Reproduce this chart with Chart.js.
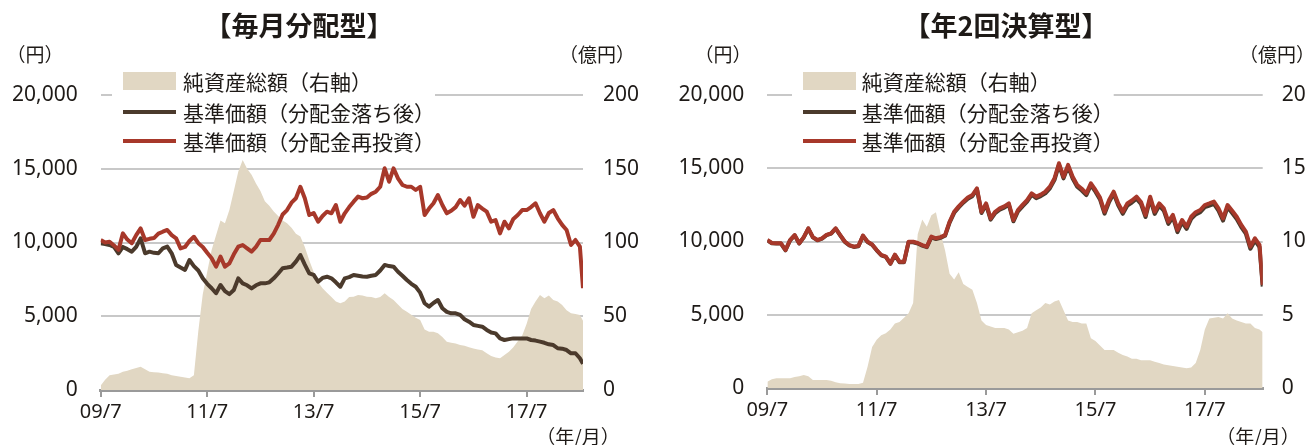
<!DOCTYPE html>
<html lang="ja">
<head>
<meta charset="utf-8">
<title>基準価額と純資産総額の推移</title>
<script src="https://cdn.jsdelivr.net/npm/chart.js@4.4.1/dist/chart.umd.min.js"></script>
<style>
  html, body { margin: 0; padding: 0; background: #fff; }
  body { width: 1308px; height: 445px; overflow: hidden; display: flex; }
  .panel { width: 654px; height: 445px; }
</style>
</head>
<body>
<div class="panel"><canvas id="monthly" width="654" height="445"></canvas></div>
<div class="panel"><canvas id="semiannual" width="654" height="445"></canvas></div>
<script>
// x values: months since 2009/7, one per month, last point is the final day shown
const months = [];
for (let m = 0; m <= 108; m++) months.push(m);
months.push(108.7);

const xTickMonths = [0, 24, 48, 72, 96];
const xTickLabels = ['09/7', '11/7', '13/7', '15/7', '17/7'];

const legendLabels = ['純資産総額（右軸）', '基準価額（分配金落ち後）', '基準価額（分配金再投資）'];

// 毎月分配型
const monthlyNetAssets = [ // 億円
  3, 7, 10, 10.5, 11, 12.4, 13, 14, 15, 15.8,
  14, 12.4, 12, 11.8, 11.3, 11, 10, 9.5, 9, 8.5,
  8, 10, 40, 65, 80, 95, 105, 115, 113, 122,
  135, 148, 156, 150, 146, 140, 135, 128, 125, 121,
  118, 115, 113, 110, 106, 104, 97, 88, 80, 73,
  69, 66, 63, 60, 58.8, 60, 63, 63.3, 64.4, 64,
  63.3, 63, 62.2, 63, 65.6, 63, 61, 58, 55, 53,
  51, 49, 47.5, 41, 39.5, 39.5, 38.5, 36, 32.7, 32,
  31.6, 30.5, 30, 29, 28.2, 27.5, 27, 24.9, 23, 22,
  21.5, 23.7, 26, 29, 33, 37, 45, 55, 60, 64.4,
  62.2, 64, 61, 60, 57.6, 54, 52, 51.5, 50.8, 47
];
const monthlyNavAfterDist = [ // 円
  9950, 9900, 9830, 9700, 9270, 9700, 9550, 9380, 9700, 10280,
  9270, 9380, 9300, 9270, 9600, 9720, 9270, 8475, 8300, 8140,
  8810, 8400, 8100, 7570, 7200, 6900, 6560, 7120, 6700, 6500,
  6780, 7570, 7230, 7100, 6890, 7100, 7230, 7230, 7300, 7570,
  7900, 8250, 8300, 8360, 8700, 9150, 8500, 7910, 7800, 7340,
  7600, 7680, 7570, 7300, 7000, 7570, 7650, 7800, 7750, 7700,
  7680, 7750, 7800, 8100, 8480, 8400, 8360, 8020, 7750, 7460,
  7200, 7000, 6600, 5880, 5650, 5900, 6100, 5540, 5300, 5200,
  5200, 5090, 4800, 4630, 4410, 4350, 4290, 4070, 3900, 3840,
  3500, 3390, 3450, 3500, 3500, 3500, 3500, 3390, 3350, 3280,
  3200, 3100, 3050, 2830, 2800, 2710, 2490, 2490, 2150, 1780
];
const monthlyNavReinvested = [ // 円
  10170, 10000, 10050, 9800, 9500, 10620, 10200, 9950, 10500, 10960,
  10170, 10250, 10300, 10600, 10730, 10850, 10500, 10280, 9600, 9700,
  10100, 10390, 9950, 9700, 9300, 8930, 8360, 9040, 8360, 8590,
  9200, 9720, 9830, 9600, 9380, 9700, 10170, 10170, 10170, 10600,
  11200, 11900, 12200, 12700, 13000, 13780, 13000, 11865, 12000, 11410,
  11800, 12090, 11980, 12540, 11410, 11980, 12400, 12770, 13110, 13000,
  13050, 13300, 13445, 13780, 15030, 14120, 15030, 14350, 13900, 13780,
  13780, 13560, 13780, 11865, 12300, 12660, 13220, 12540, 11980, 12150,
  12400, 12880, 12500, 13000, 11750, 12540, 12300, 12090, 11410, 11520,
  10620, 11410, 10960, 11600, 11865, 12200, 12200, 12400, 12660, 11980,
  11410, 12000, 12200, 11640, 11190, 10850, 9830, 10170, 9720, 6900
];

// 年2回決算型
const semiNetAssets = [ // 億円
  0.43, 0.6, 0.66, 0.66, 0.66, 0.66, 0.75, 0.8, 0.89, 0.8,
  0.55, 0.55, 0.55, 0.55, 0.5, 0.4, 0.32, 0.3, 0.28, 0.27,
  0.27, 0.35, 1.45, 2.8, 3.3, 3.6, 3.73, 4.0, 4.4, 4.5,
  4.8, 5.1, 5.8, 10.5, 11.5, 11.0, 11.8, 12.0, 10.6, 9.4,
  7.8, 7.4, 7.9, 7.1, 6.9, 6.7, 5.8, 4.6, 4.3, 4.2,
  4.1, 4.1, 4.1, 4.0, 3.7, 3.8, 3.9, 4.1, 5.1, 5.3,
  5.5, 5.8, 5.7, 5.9, 6.0, 5.3, 4.6, 4.5, 4.5, 4.4,
  4.4, 3.4, 3.2, 2.9, 2.6, 2.6, 2.6, 2.4, 2.25, 2.15,
  2.0, 2.0, 1.9, 1.9, 1.9, 1.8, 1.7, 1.6, 1.55, 1.5,
  1.45, 1.4, 1.35, 1.4, 1.7, 2.6, 4.0, 4.75, 4.8, 4.85,
  4.75, 5.1, 4.75, 4.6, 4.5, 4.4, 4.4, 4.1, 4.0, 3.8
];
const semiNavAfterDist = [ // 円
  10080, 9880, 9860, 9860, 9400, 10080, 10420, 9860, 10280, 10880,
  10280, 10080, 10190, 10430, 10540, 10880, 10420, 9980, 9740, 9630,
  9680, 10380, 9970, 9780, 9400, 9060, 8950, 8480, 9070, 8590,
  8590, 9950, 9950, 9860, 9720, 9610, 10280, 10170, 10250, 10390,
  11290, 11960, 12330, 12650, 12920, 13090, 13550, 11950, 12510, 11490,
  11940, 12170, 12310, 12510, 11380, 12050, 12400, 12730, 13190, 12960,
  13100, 13290, 13630, 14190, 15230, 14310, 15110, 14300, 13740, 13480,
  13170, 13850, 13400, 12870, 11900, 12700, 13270, 12470, 11890, 12460,
  12660, 12920, 12560, 11670, 12910, 11880, 12450, 12110, 11200, 11660,
  10640, 11320, 10860, 11540, 11850, 12000, 12340, 12450, 12570, 12110,
  11430, 12340, 11950, 11540, 10980, 10530, 9500, 10070, 9620, 6920
];
const semiNavReinvested = [ // 円
  10100, 9900, 9880, 9880, 9420, 10100, 10440, 9880, 10300, 10900,
  10300, 10100, 10210, 10450, 10560, 10900, 10440, 10000, 9760, 9650,
  9700, 10400, 9990, 9800, 9420, 9080, 8970, 8500, 9100, 8620,
  8620, 9990, 9990, 9900, 9760, 9650, 10330, 10220, 10300, 10440,
  11350, 12030, 12400, 12720, 13000, 13170, 13630, 12030, 12600, 11580,
  12030, 12260, 12400, 12600, 11470, 12150, 12500, 12830, 13290, 13060,
  13200, 13400, 13740, 14300, 15340, 14420, 15230, 14420, 13860, 13600,
  13290, 13970, 13520, 13000, 12030, 12830, 13400, 12600, 12030, 12600,
  12800, 13060, 12700, 11810, 13060, 12030, 12600, 12260, 11350, 11810,
  10790, 11470, 11010, 11690, 12000, 12150, 12490, 12600, 12720, 12260,
  11580, 12490, 12100, 11690, 11130, 10680, 9650, 10220, 9770, 7050
];

const TEXT = '#1e1a17';
const AREA = '#e1d7c3';
const BROWN = '#4b3a2c';
const RED = '#a7382a';
const GRID = '#c8c8c8';
const AXIS = '#9a9a9a';
const SANS = '"Noto Sans", "Noto Sans CJK JP", sans-serif';
const CJK = '"Noto Sans CJK JP", "Noto Sans", sans-serif';

Chart.defaults.font.family = SANS;
Chart.defaults.color = TEXT;

// legend, title and unit labels
const panelDecor = {
  id: 'panelDecor',
  beforeDatasetsDraw(chart, args, opts) {
    const { ctx, chartArea: area } = chart;
    const sets = chart.data.datasets;
    const swX = area.left + opts.swatchX;
    const textX = area.left + opts.textX;
    ctx.save();
    ctx.font = '21px ' + CJK;
    let maxW = 0;
    sets.forEach(ds => { maxW = Math.max(maxW, ctx.measureText(ds.label).width); });
    // white box hides the top grid line behind the legend
    ctx.fillStyle = '#fff';
    ctx.fillRect(swX - 11, 66, textX + maxW - swX + 11, 92);
    sets.forEach((ds, i) => {
      const y = opts.rows[i];
      if (ds.fill) {
        ctx.fillStyle = ds.backgroundColor;
        ctx.fillRect(swX, y - 9, 53, 18);
      } else {
        ctx.strokeStyle = ds.borderColor;
        ctx.lineWidth = 4;
        ctx.beginPath();
        ctx.moveTo(swX, y);
        ctx.lineTo(swX + 53, y);
        ctx.stroke();
      }
      ctx.fillStyle = TEXT;
      ctx.textAlign = 'left';
      ctx.textBaseline = 'middle';
      ctx.fillText(ds.label, textX, y + 1);
    });
    ctx.restore();
  },
  afterDraw(chart, args, opts) {
    const ctx = chart.ctx;
    ctx.save();
    ctx.fillStyle = TEXT;
    ctx.textAlign = 'center';
    ctx.textBaseline = 'middle';
    ctx.font = 'bold 27px ' + CJK;
    ctx.fillText(opts.title, opts.titleX, 26);
    ctx.font = '19px ' + CJK;
    ctx.fillText('（円）', opts.yenX, 55);
    ctx.fillText('（億円）', opts.okuX, 55);
    ctx.fillText('（年/月）', opts.dateX, 437);
    ctx.restore();
  }
};

function makePanel(canvasId, series, geom, decor) {
  const [netAssets, navAfterDist, navReinvested] = series;
  const pts = arr => months.map((m, i) => ({ x: m, y: arr[i] }));
  return new Chart(document.getElementById(canvasId), {
    type: 'line',
    data: {
      datasets: [
        {
          label: legendLabels[0],
          data: pts(netAssets),
          yAxisID: 'y1',
          fill: 'origin',
          backgroundColor: AREA,
          borderWidth: 0,
          pointRadius: 0,
          order: 3
        },
        {
          label: legendLabels[1],
          data: pts(navAfterDist),
          yAxisID: 'y',
          fill: false,
          borderColor: BROWN,
          borderWidth: 4,
          pointRadius: 0,
          order: 2
        },
        {
          label: legendLabels[2],
          data: pts(navReinvested),
          yAxisID: 'y',
          fill: false,
          borderColor: RED,
          borderWidth: 4,
          pointRadius: 0,
          order: 1
        }
      ]
    },
    options: {
      responsive: false,
      animation: false,
      devicePixelRatio: 1,
      layout: { padding: { top: geom.top, left: 0, right: 0, bottom: 0 } },
      elements: { line: { tension: 0, borderJoinStyle: 'round' } },
      plugins: {
        legend: { display: false },
        tooltip: { enabled: false },
        panelDecor: decor
      },
      scales: {
        x: {
          type: 'linear',
          min: 0,
          max: months[months.length - 1],
          afterBuildTicks: s => { s.ticks = xTickMonths.map(v => ({ value: v })); },
          afterFit: s => { s.height = 445 - geom.bottom; },
          grid: { display: true, drawOnChartArea: false, drawTicks: true, tickLength: 7, color: AXIS, lineWidth: 2 },
          border: { display: true, color: AXIS, width: 3 },
          ticks: {
            autoSkip: false,
            maxRotation: 0,
            padding: 3,
            font: { size: 20 },
            callback: v => xTickLabels[xTickMonths.indexOf(v)]
          }
        },
        y: {
          position: 'left',
          min: 0,
          max: 20000,
          afterFit: s => { s.width = geom.left; },
          grid: {
            drawTicks: false,
            lineWidth: 2,
            color: c => (c.tick && c.tick.value === 0 ? 'rgba(0,0,0,0)' : GRID)
          },
          border: { display: false },
          ticks: {
            stepSize: 5000,
            padding: 23,
            font: { size: 21 },
            callback: v => v.toLocaleString('en-US')
          }
        },
        y1: {
          position: 'right',
          min: 0,
          max: geom.rightMax,
          afterFit: s => { s.width = 654 - geom.right; },
          grid: { display: false, drawTicks: false },
          border: { display: false },
          ticks: {
            stepSize: geom.rightMax / 4,
            padding: geom.rightPad,
            font: { size: 21 },
            callback: v => String(v)
          }
        }
      }
    },
    plugins: [panelDecor]
  });
}

makePanel('monthly',
  [monthlyNetAssets, monthlyNavAfterDist, monthlyNavReinvested],
  { left: 100.7, right: 583, top: 95, bottom: 390, rightMax: 200, rightPad: 20 },
  { title: '【毎月分配型】', titleX: 299, yenX: 35, okuX: 597, dateX: 578,
    swatchX: 22.3, textX: 82.3, rows: [81, 112, 141] });

makePanel('semiannual',
  [semiNetAssets, semiNavAfterDist, semiNavReinvested],
  { left: 113.3, right: 608.7, top: 95, bottom: 388, rightMax: 20, rightPad: 19 },
  { title: '【年2回決算型】', titleX: 352, yenX: 69, okuX: 623, dateX: 604,
    swatchX: 35.7, textX: 94.4, rows: [81, 112, 141] });
</script>
</body>
</html>
